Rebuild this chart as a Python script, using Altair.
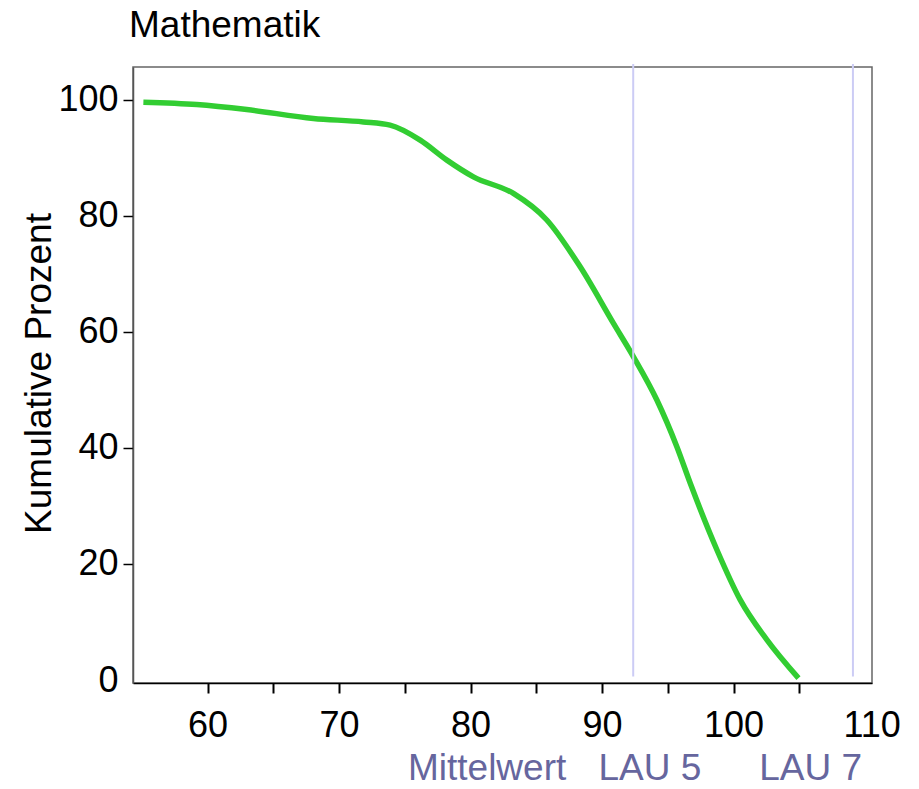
import altair as alt
import pandas as pd

FONT = "Liberation Sans"

# Curve (cumulative percent vs. score)
score = [55.12, 59.18, 62.98, 68.05, 71.85, 73.88, 76.17, 78.20, 80.22, 83.26,
         85.80, 88.34, 90.87, 92.39, 94.17, 95.69, 96.71, 98.74, 100.51, 102.54, 104.94]
cum_pct = [99.54, 99.14, 98.28, 96.73, 96.14, 95.58, 93.0, 89.56, 86.68, 83.82,
           79.25, 71.18, 61.44, 55.69, 48.24, 40.20, 33.90, 22.41, 13.81, 6.92, 0.33]

# Reference lines
ref_x = [92.37, 109.08]
ref_lo = [0.6, 0.6]
ref_hi = [106.1, 106.1]

# Bottom annotations
annot_text = ["Mittelwert", "LAU 5", "LAU 7"]
annot_x = [81.26, 93.64, 105.86]

title_text = ["Mathematik"]

x_ticks = [60, 65, 70, 75, 80, 85, 90, 95, 100, 105, 110.5]
y_ticks = [0, 20, 40, 60, 80, 100]

X_DOMAIN = [54.33, 110.53]
Y_DOMAIN = [-0.5, 105.6]

curve = pd.DataFrame({"score": score, "pct": cum_pct})
refs = pd.DataFrame({"x": ref_x, "lo": ref_lo, "hi": ref_hi})
annots = pd.DataFrame({"x": annot_x, "text": annot_text})
titles = pd.DataFrame({"text": title_text})

xscale = alt.Scale(domain=X_DOMAIN, nice=False, zero=False)
yscale = alt.Scale(domain=Y_DOMAIN, nice=False, zero=False)

line = alt.Chart(curve).mark_line(
    color="#32CD32", strokeWidth=5.5, interpolate="monotone", strokeCap="butt"
).encode(
    x=alt.X("score:Q", scale=xscale, axis=alt.Axis(
        values=x_ticks, title=None, grid=False,
        labelExpr="datum.value > 108 ? '110' : (datum.value % 10 == 0 ? datum.label : '')",
        labelFont=FONT, labelFontSize=36, labelColor="black", labelPadding=15,
        labelFlush=False, labelOverlap=False,
        tickSize=10, tickWidth=2,
        tickColor={"condition": {"test": "datum.value > 108", "value": "transparent"}, "value": "black"},
        domainColor="black", domainWidth=1.5,
    )),
    y=alt.Y("pct:Q", scale=yscale, axis=alt.Axis(
        values=y_ticks, title="Kumulative Prozent", grid=False,
        labelFont=FONT, labelFontSize=36, labelColor="black", labelPadding=5,
        labelFlush=False, labelOverlap=False,
        tickSize=10, tickWidth=1.5,
        tickColor={"condition": {"test": "datum.value == 0", "value": "transparent"}, "value": "black"},
        domainColor="#555555", domainWidth=1.5,
        titleFont=FONT, titleFontSize=37, titleFontWeight="normal", titleColor="black",
        titleX=-83, titleY=306, titleBaseline="alphabetic", titleAlign="center",
    )),
)

rules = alt.Chart(refs).mark_rule(color="#ccccf5", strokeWidth=2, clip=False).encode(
    x=alt.X("x:Q", scale=xscale),
    y=alt.Y("lo:Q", scale=yscale),
    y2="hi:Q",
)

texts = alt.Chart(annots).mark_text(
    font=FONT, fontSize=37, color="#66669e", baseline="alphabetic", align="center"
).encode(
    x=alt.X("x:Q", scale=xscale),
    y=alt.value(713),
    text="text:N",
)

title_mark = alt.Chart(titles).mark_text(
    font=FONT, fontSize=37, color="black", baseline="alphabetic", align="left"
).encode(
    x=alt.value(-4),
    y=alt.value(-30),
    text="text:N",
)

chart = alt.layer(line, rules, texts, title_mark).properties(
    width=739,
    height=616,
    background="white",
    autosize=alt.AutoSizeParams(type="none"),
    padding={"left": 125, "top": 59, "right": 30, "bottom": 105},
).configure_view(stroke="#666666", strokeWidth=1.5)

chart.save("out.html", embed_options={"renderer": "svg", "actions": False})
